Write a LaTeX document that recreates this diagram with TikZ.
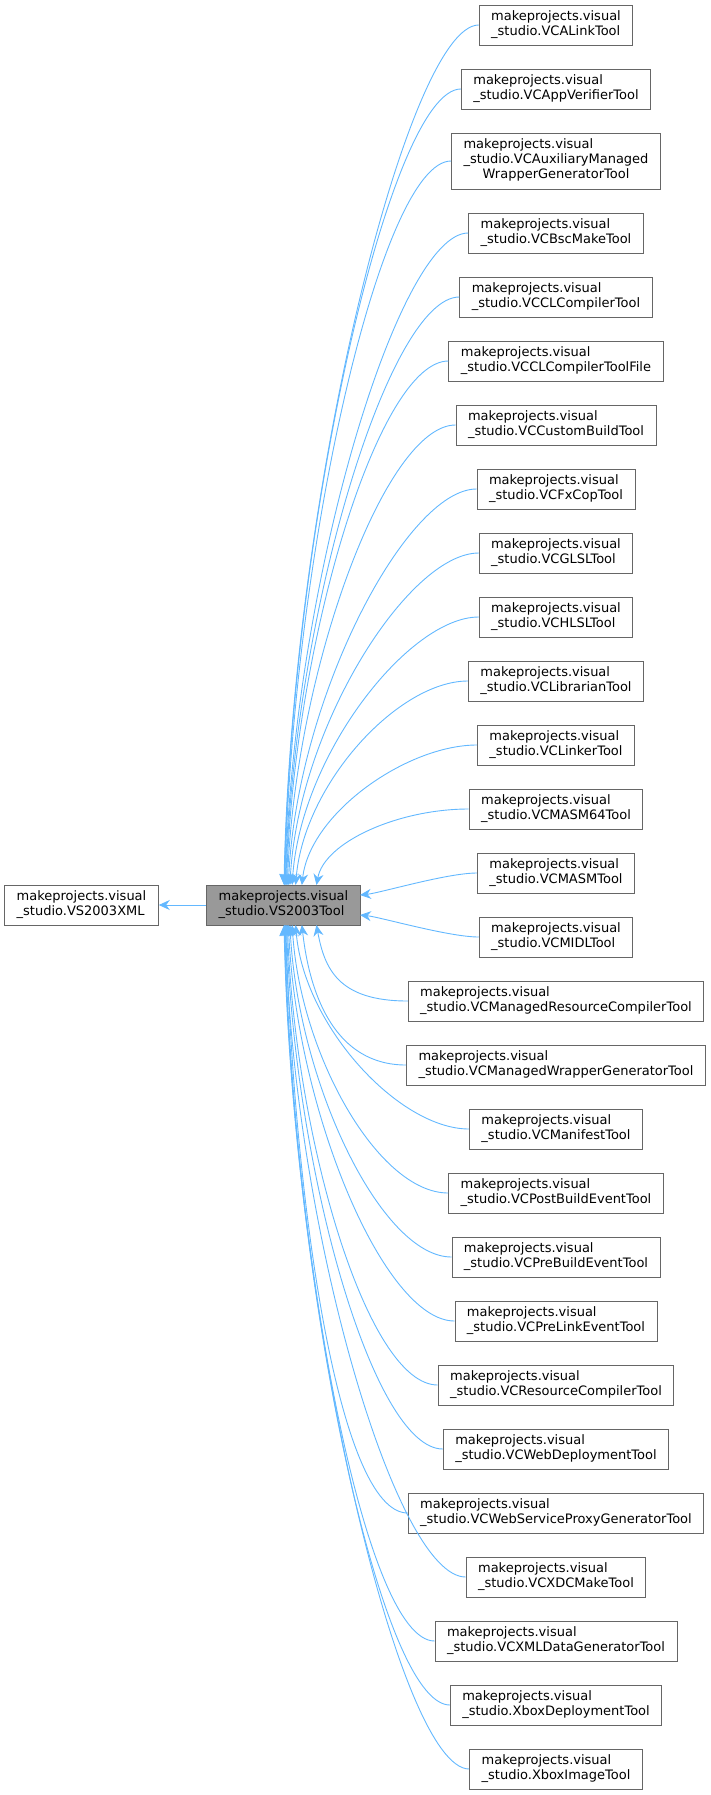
\documentclass[tikz,border=0pt]{standalone}
\usepackage{fontspec}
\setmainfont{DejaVu Sans}
\usetikzlibrary{arrows.meta,calc}
\definecolor{edgeblue}{HTML}{63B8FF}
\definecolor{boxgray}{HTML}{666666}
\definecolor{fillgray}{HTML}{999999}
\tikzset{
 cls/.style={draw=boxgray,line width=0.9pt,fill=white,align=left,inner xsep=12pt,inner ysep=2pt,minimum height=40pt,font=\fontsize{13}{15}\selectfont},
 curcls/.style={cls,fill=fillgray,minimum width=153pt},
 edge/.style={draw=edgeblue,line width=0.9pt,{Stealth[length=11pt,width=10pt]}-}
}
\begin{document}
\begin{tikzpicture}[x=1pt,y=-1pt]
\useasboundingbox (0,0) rectangle (711,1795);
\node[cls,minimum width=153pt] (xml) at (81.5,905) {makeprojects.visual\\\_studio.VS2003XML};
\node[curcls] (tool) at (283.5,905) {makeprojects.visual\\\_studio.VS2003Tool};
\draw[edge] (xml.east) -- (tool.west);
\foreach \k/\t in {1/VCALinkTool,2/VCAppVerifierTool,4/VCBscMakeTool,5/VCCLCompilerTool,6/VCCLCompilerToolFile,7/VCCustomBuildTool,8/VCFxCopTool,9/VCGLSLTool,10/VCHLSLTool,11/VCLibrarianTool,12/VCLinkerTool,13/VCMASM64Tool,14/VCMASMTool,15/VCMIDLTool,16/VCManagedResourceCompilerTool,17/VCManagedWrapperGeneratorTool,18/VCManifestTool,19/VCPostBuildEventTool,20/VCPreBuildEventTool,21/VCPreLinkEventTool,22/VCResourceCompilerTool,23/VCWebDeploymentTool,24/VCWebServiceProxyGeneratorTool,25/VCXDCMakeTool,26/VCXMLDataGeneratorTool,27/XboxDeploymentTool,28/XboxImageTool}{
  \pgfmathsetmacro{\yy}{\k<3 ? 25+(\k-1)*64 : 41+(\k-1)*64}
  \node[cls] (c\k) at (556,\yy) {makeprojects.visual\\\_studio.\t};
}
\node[cls,minimum height=56pt] (c3) at (556,161) {\begin{tabular}{@{}l@{}}makeprojects.visual\\\_studio.VCAuxiliaryManaged\\\multicolumn{1}{@{}c@{}}{WrapperGeneratorTool}\end{tabular}};
\foreach \k in {1,...,28}{
  \pgfmathsetmacro{\yy}{\k<3 ? 25+(\k-1)*64 : (\k==3 ? 161 : 41+(\k-1)*64)}
  \pgfmathsetmacro{\dy}{\yy-905}
  \ifnum\k=14
    \draw[edge] (360,895) .. controls (380,893) and ($(c\k.west)+(-30,0)$) .. (c\k.west);
  \else\ifnum\k=15
    \draw[edge] (360,915) .. controls (380,917) and ($(c\k.west)+(-30,0)$) .. (c\k.west);
  \else
    \pgfmathsetmacro{\xe}{280+3500/abs(\dy)}
    \pgfmathsetmacro{\ye}{\dy<0 ? 885 : 925}
    \pgfmathsetmacro{\cy}{\ye+0.45*\dy}
    \pgfmathsetmacro{\cx}{\xe+8}
    \draw[edge] (\xe,\ye) .. controls (\cx,\cy) and ($(c\k.west)+(-70,0)$) .. (c\k.west);
  \fi\fi
}
\end{tikzpicture}
\end{document}
